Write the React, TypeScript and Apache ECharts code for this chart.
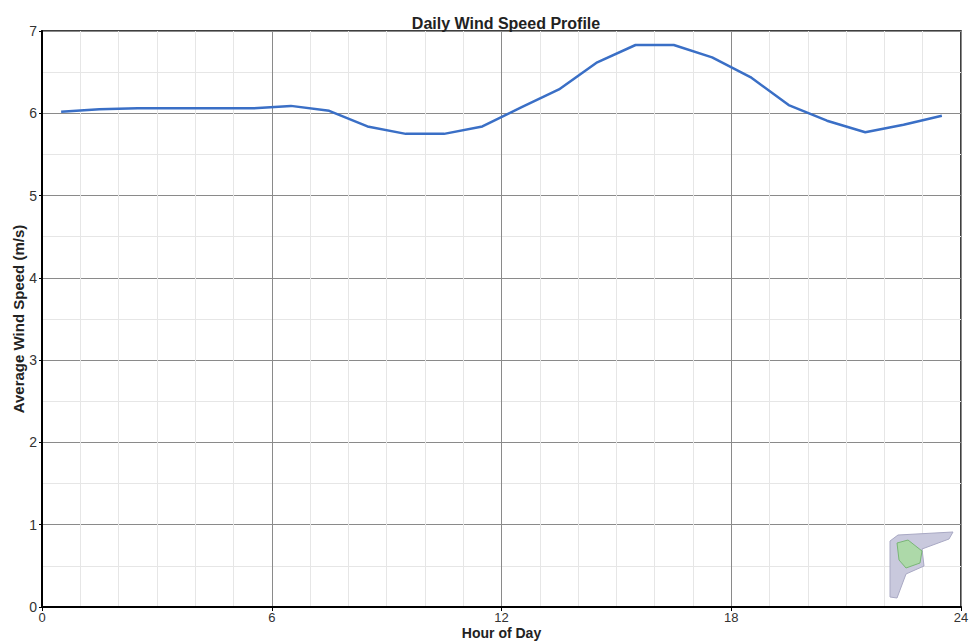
import React, { useEffect, useRef } from "react";
import * as echarts from "echarts";

const hours = [0.5, 1.5, 2.5, 3.5, 4.5, 5.5, 6.5, 7.5, 8.5, 9.5, 10.5, 11.5, 12.5, 13.5, 14.5, 15.5, 16.5, 17.5, 18.5, 19.5, 20.5, 21.5, 22.5, 23.5];
const windSpeed = [6.02, 6.05, 6.06, 6.06, 6.06, 6.06, 6.09, 6.03, 5.84, 5.75, 5.75, 5.84, 6.07, 6.29, 6.62, 6.83, 6.83, 6.68, 6.44, 6.10, 5.91, 5.77, 5.86, 5.97];
const title = "Daily Wind Speed Profile";
const xName = "Hour of Day";
const yName = "Average Wind Speed (m/s)";

export default function App() {
  const ref = useRef<HTMLDivElement>(null);
  useEffect(() => {
    if (!ref.current) return;
    const chart = echarts.init(ref.current, null, { renderer: "svg" });
    const font = "'Liberation Sans', Arial, sans-serif";
    chart.setOption({
      animation: false,
      backgroundColor: "#ffffff",
      title: {
        text: title,
        left: 501,
        top: 10,
        textAlign: "center",
        textStyle: { fontFamily: font, fontSize: 16, fontWeight: "bold", color: "#222" },
      },
      grid: {
        left: 42,
        right: 9,
        top: 31,
        bottom: 37,
        outerBoundsMode: "none",
        containLabel: false,
        show: true,
        borderColor: "#000",
        borderWidth: 1.5,
        backgroundColor: "transparent",
      },
      xAxis: {
        type: "value",
        min: 0,
        max: 24,
        interval: 6,
        name: xName,
        nameLocation: "middle",
        nameGap: 19,
        nameMoveOverlap: false,
        nameTextStyle: { fontFamily: font, fontSize: 14, lineHeight: 14, fontWeight: "bold", color: "#222" },
        axisLine: { show: true, lineStyle: { color: "#000", width: 2 } },
        axisTick: { show: true, length: 4, lineStyle: { color: "#000" } },
        axisLabel: { fontFamily: font, fontSize: 13, lineHeight: 13, color: "#333", margin: 4 },
        splitLine: { show: true, lineStyle: { color: "#8a8a8a", width: 1 } },
        minorTick: { show: false, splitNumber: 6 },
        minorSplitLine: { show: true, lineStyle: { color: "#e6e6e6", width: 1 } },
      },
      yAxis: {
        type: "value",
        min: 0,
        max: 7,
        interval: 1,
        name: yName,
        nameLocation: "middle",
        nameGap: 16,
        nameMoveOverlap: false,
        nameTextStyle: { fontFamily: font, fontSize: 15, fontWeight: "bold", color: "#222" },
        axisLine: { show: true, lineStyle: { color: "#000", width: 2 } },
        axisTick: { show: true, length: 3, lineStyle: { color: "#000" } },
        axisLabel: { fontFamily: font, fontSize: 14, color: "#333", margin: 5 },
        splitLine: { show: true, lineStyle: { color: "#8a8a8a", width: 1 } },
        minorTick: { show: false, splitNumber: 2 },
        minorSplitLine: { show: true, lineStyle: { color: "#e6e6e6", width: 1 } },
      },
      series: [
        {
          type: "line",
          data: hours.map((h, i) => [h, windSpeed[i]]),
          showSymbol: false,
          lineStyle: { color: "#3a6fc6", width: 2.5 },
          itemStyle: { color: "#3a6fc6" },
          z: 5,
        },
      ],
      graphic: [
        {
          type: "polygon",
          shape: {
            points: [[890, 541], [898, 535], [953, 532], [949, 539], [922, 549], [924, 566], [906, 574], [897, 598], [890, 597]],
          },
          style: { fill: "#c9c9dd", stroke: "#a9a9c4", lineWidth: 1 },
          z: 10,
        },
        {
          type: "polygon",
          shape: {
            points: [[897, 543], [908, 540], [922, 551], [920, 563], [906, 568], [899, 560]],
          },
          style: { fill: "#a8dca0", stroke: "#6fb06a", lineWidth: 1, opacity: 0.85 },
          z: 11,
        },
      ],
    });
    return () => chart.dispose();
  }, []);
  return <div ref={ref} style={{ position: "absolute", left: 0, top: 0, width: 970, height: 644 }} />;
}
